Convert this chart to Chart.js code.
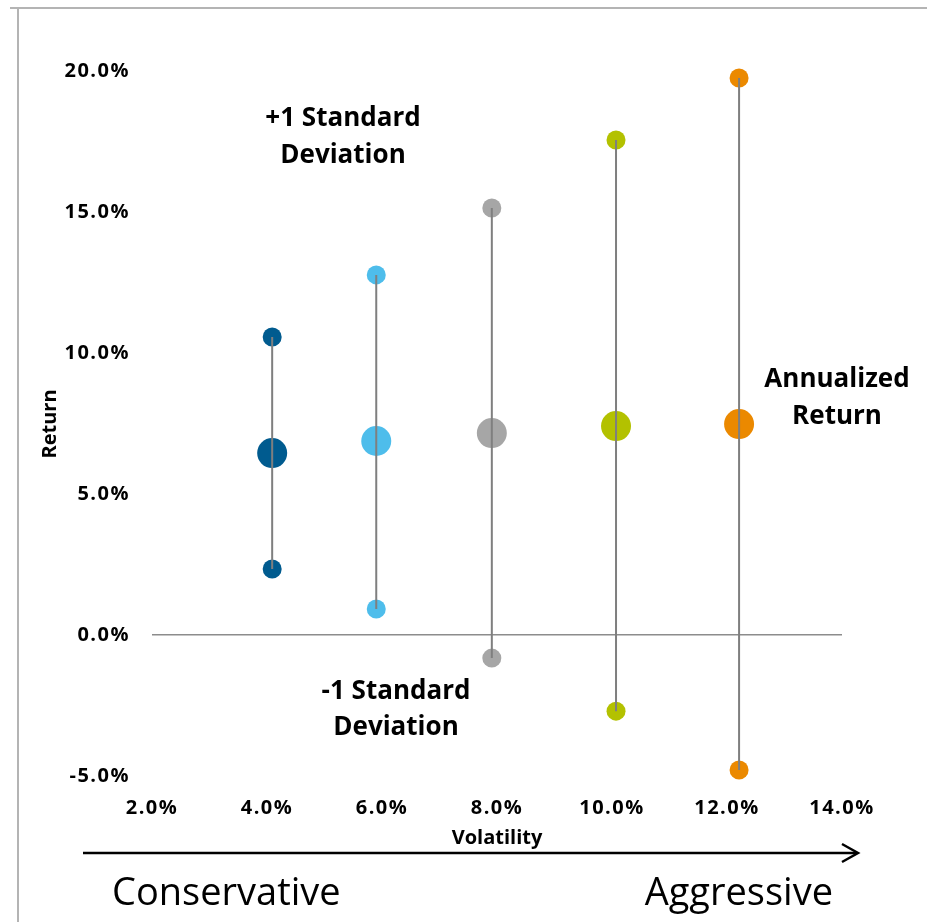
<!DOCTYPE html>
<html>
<head>
<meta charset="utf-8">
<script src="https://cdn.jsdelivr.net/npm/chart.js@4.4.1/dist/chart.umd.min.js"></script>
<style>
  html, body { margin: 0; padding: 0; background: #ffffff; }
  #wrap { width: 927px; height: 922px; position: relative; }
</style>
</head>
<body>
<div id="wrap"><canvas id="c" width="927" height="922"></canvas></div>
<script>
// Portfolio risk/return: annualized return with a ±1 standard deviation range
const volatility   = [4.09, 5.90, 7.91, 10.07, 12.21];
const annualReturn = [6.45, 6.88, 7.16, 7.41, 7.48];
const plusOneSD    = [10.57, 12.77, 15.14, 17.55, 19.75];
const minusOneSD   = [2.34, 0.92, -0.82, -2.70, -4.79];
const pointColors  = ['#005B8F', '#4EBDEB', '#A6A6A6', '#B3C100', '#EB8900'];
const yTicks = [-5, 0, 5, 10, 15, 20];
const xTicks = [2, 4, 6, 8, 10, 12, 14];

const FONT = "'Open Sans', 'DejaVu Sans', sans-serif";

const datasets = [];
// range lines first so they are drawn on top of the markers
volatility.forEach((v, i) => {
  datasets.push({
    type: 'scatter',
    data: [{ x: v, y: plusOneSD[i] }, { x: v, y: minusOneSD[i] }],
    showLine: true,
    borderColor: '#7F7F7F',
    borderWidth: 2,
    pointRadius: 0,
    clip: false,
    order: 0
  });
});
volatility.forEach((v, i) => {
  datasets.push({
    type: 'scatter',
    data: [{ x: v, y: plusOneSD[i] }, { x: v, y: minusOneSD[i] }],
    backgroundColor: pointColors[i],
    borderColor: pointColors[i],
    pointRadius: 9.5,
    borderWidth: 0,
    clip: false,
    order: 1
  });
  datasets.push({
    type: 'scatter',
    data: [{ x: v, y: annualReturn[i] }],
    backgroundColor: pointColors[i],
    borderColor: pointColors[i],
    pointRadius: 15,
    borderWidth: 0,
    clip: false,
    order: 1
  });
});

// slightly tracked lettering for the tick labels only
const tracking = {
  id: 'tracking',
  beforeDraw(chart) { chart.ctx.letterSpacing = '1.5px'; },
  beforeDatasetsDraw(chart) { chart.ctx.letterSpacing = '0px'; }
};

const decor = {
  id: 'decor',
  afterDraw(chart) {
    const ctx = chart.ctx;
    ctx.save();
    ctx.letterSpacing = '0px';
    // frame
    ctx.strokeStyle = '#B4B4B4';
    ctx.lineWidth = 2;
    ctx.beginPath();
    ctx.moveTo(10, 8);
    ctx.lineTo(927, 8);
    ctx.moveTo(18, 8);
    ctx.lineTo(18, 922);
    ctx.stroke();

    ctx.fillStyle = '#000000';
    ctx.textAlign = 'center';
    ctx.textBaseline = 'middle';

    // axis titles
    ctx.font = "bold 20px " + FONT;
    ctx.fillText('Volatility', 497, 838);
    ctx.save();
    ctx.translate(50, 424);
    ctx.rotate(-Math.PI / 2);
    ctx.fillText('Return', 0, 0);
    ctx.restore();

    // text annotations
    ctx.font = "bold 26px " + FONT;
    ctx.fillText('+1 Standard', 343, 119);
    ctx.fillText('Deviation', 343, 156);
    ctx.fillText('-1 Standard', 396, 692);
    ctx.fillText('Deviation', 396, 728);
    ctx.fillText('Annualized', 837, 380);
    ctx.fillText('Return', 837, 417);

    // risk arrow
    ctx.strokeStyle = '#000000';
    ctx.lineWidth = 2.5;
    ctx.beginPath();
    ctx.moveTo(83, 853);
    ctx.lineTo(857, 853);
    ctx.stroke();
    ctx.beginPath();
    ctx.moveTo(842, 844);
    ctx.lineTo(858, 853);
    ctx.lineTo(842, 862);
    ctx.stroke();

    ctx.font = "38px " + FONT;
    ctx.textAlign = 'left';
    ctx.textBaseline = 'alphabetic';
    ctx.fillText('Conservative', 112, 905);
    ctx.textAlign = 'right';
    ctx.fillText('Aggressive', 833, 905);
    ctx.restore();
  }
};

new Chart(document.getElementById('c'), {
  type: 'scatter',
  data: { datasets },
  options: {
    responsive: false,
    animation: false,
    events: [],
    layout: { padding: { left: 0, top: 71, right: 85, bottom: 66 } },
    plugins: { legend: { display: false }, tooltip: { enabled: false } },
    scales: {
      x: {
        type: 'linear',
        position: 'bottom',
        min: 2, max: 14,
        afterBuildTicks: s => { s.ticks = xTicks.map(v => ({ value: v })); },
        afterFit: s => { s.height = 80; },
        grid: { display: false, drawTicks: false },
        border: { display: false },
        ticks: {
          padding: 20,
          color: '#000000',
          font: { family: FONT, weight: 'bold', size: 20 },
          callback: v => v.toFixed(1) + '%'
        },
        title: { display: false }
      },
      y: {
        type: 'linear',
        min: -5, max: 20,
        afterBuildTicks: s => { s.ticks = yTicks.map(v => ({ value: v })); },
        afterFit: s => { s.width = 152; },
        grid: {
          drawTicks: false,
          lineWidth: 1.5,
          color: c => (c.tick && c.tick.value === 0 ? '#8C8C8C' : 'rgba(0,0,0,0)')
        },
        border: { display: false },
        ticks: {
          padding: 22,
          color: '#000000',
          font: { family: FONT, weight: 'bold', size: 20 },
          callback: v => v.toFixed(1) + '%'
        },
        title: { display: false }
      }
    }
  },
  plugins: [tracking, decor]
});
</script>
</body>
</html>
